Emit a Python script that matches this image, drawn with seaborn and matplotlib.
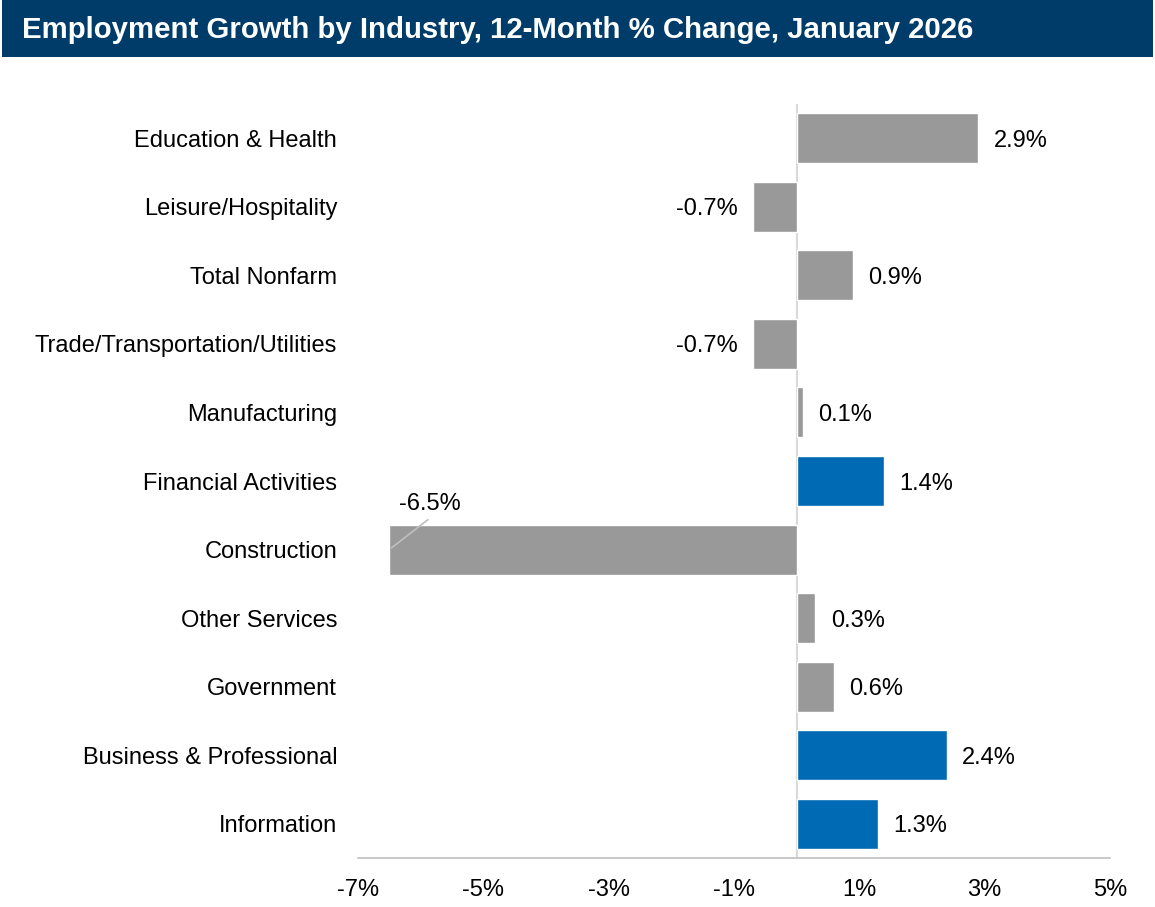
import matplotlib
matplotlib.use("Agg")
import matplotlib.pyplot as plt
import seaborn as sns
import pandas as pd

industries = [
    "Education & Health",
    "Leisure/Hospitality",
    "Total Nonfarm",
    "Trade/Transportation/Utilities",
    "Manufacturing",
    "Financial Activities",
    "Construction",
    "Other Services",
    "Government",
    "Business & Professional",
    "Information",
]
pct_change = [2.9, -0.7, 0.9, -0.7, 0.1, 1.4, -6.5, 0.3, 0.6, 2.4, 1.3]
group = ["other", "other", "other", "other", "other", "highlight",
         "other", "other", "other", "highlight", "highlight"]
tick_values = [-7, -5, -3, -1, 1, 3, 5]

df = pd.DataFrame({"industry": industries, "change": pct_change, "group": group})

sns.set_theme(style="white")
plt.rcParams["font.family"] = ["Liberation Sans", "DejaVu Sans"]
plt.rcParams["text.color"] = "black"
plt.rcParams["xtick.color"] = "black"
plt.rcParams["ytick.color"] = "black"

FS = 17
fig = plt.figure(figsize=(11.55, 9.07), dpi=100)
W, H = 1155, 907

# title banner
banner = fig.add_axes([0.002, 1 - 57 / H, 0.996, 57 / H])
banner.set_facecolor("#003C69")
banner.set_xticks([])
banner.set_yticks([])
for s in banner.spines.values():
    s.set_visible(False)
banner.text(20 / (0.996 * W), 0.48, "Employment Growth by Industry, 12-Month % Change, January 2026",
            color="white", fontsize=21.2, fontweight="bold", va="center", ha="left",
            transform=banner.transAxes)

ax = fig.add_axes([358 / W, 1 - 858 / H, (1110 - 358) / W, (858 - 104) / H])
sns.barplot(data=df, x="change", y="industry", hue="group",
            palette={"other": "#999999", "highlight": "#006AB4"},
            order=industries, orient="h", width=0.73, dodge=False,
            legend=False, saturation=1, ax=ax)

ax.set_xlim(-7, 5)
ax.set_ylim(len(industries) - 0.5, -0.5)
ax.set_xticks(tick_values)
ax.set_xticklabels([f"{v}%" for v in tick_values], fontsize=FS)
ax.tick_params(axis="x", length=0, pad=15)
ax.tick_params(axis="y", length=0, pad=15, labelsize=FS)
ax.set_xlabel("")
ax.set_ylabel("")
for side in ["top", "right", "left"]:
    ax.spines[side].set_visible(False)
ax.spines["bottom"].set_color("#BFBFBF")
ax.spines["bottom"].set_linewidth(1.2)
ax.axvline(0, color="#D9D9D9", lw=1.5, zorder=0)

for i, v in enumerate(pct_change):
    label = f"{v:.1f}%"
    if v == min(pct_change):
        ax.annotate("", xy=(v, i + 0.0), xytext=(v + 0.65, i - 0.46),
                    arrowprops=dict(arrowstyle="-", color="#BFBFBF", lw=1.2))
        ax.text(v + 0.65, i - 0.7, label, ha="center", va="center_baseline", fontsize=FS)
    elif v >= 0:
        ax.annotate(label, xy=(v, i), xytext=(11, 0), textcoords="offset points",
                    ha="left", va="center_baseline", fontsize=FS)
    else:
        ax.annotate(label, xy=(v, i), xytext=(-11, 0), textcoords="offset points",
                    ha="right", va="center_baseline", fontsize=FS)

fig.savefig("out.png", dpi=100)
